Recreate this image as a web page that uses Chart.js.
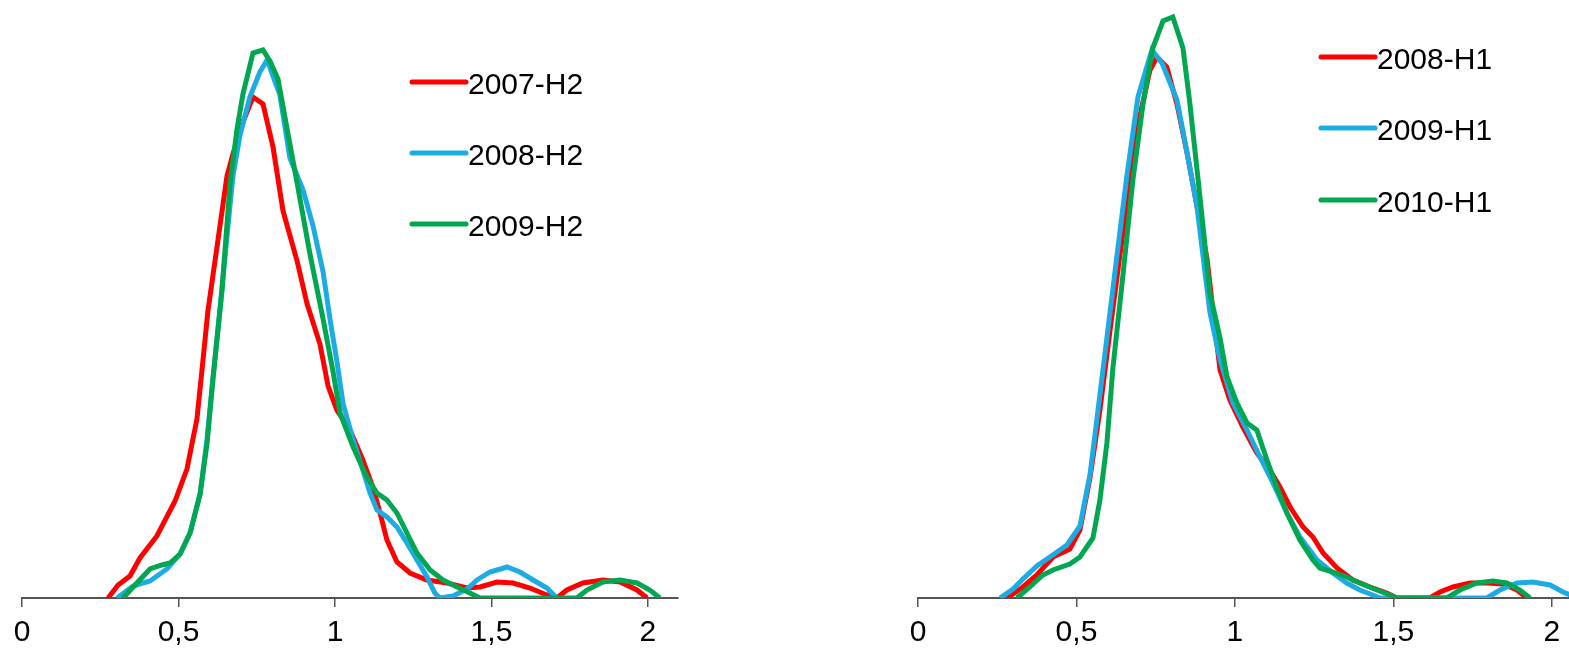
<!DOCTYPE html>
<html>
<head>
<meta charset="utf-8">
<script src="https://cdn.jsdelivr.net/npm/chart.js@4.4.1/dist/chart.umd.min.js"></script>
<style>
  html, body { margin: 0; padding: 0; background: #fff; }
  body { width: 1569px; height: 650px; position: relative; overflow: hidden; }
  .wrap { position: absolute; top: 0; height: 650px; }
  #wl { left: 0; width: 760px; }
  #wr { left: 860px; width: 709px; }
  canvas { display: block; }
</style>
</head>
<body>
<div class="wrap" id="wl"><canvas id="cl" width="760" height="650"></canvas></div>
<div class="wrap" id="wr"><canvas id="cr" width="709" height="650"></canvas></div>
<script>
// ---------- data (x = ratio, y = density, arbitrary units) ----------
const tickValues = [0, 0.5, 1, 1.5, 2];
const leftLabels = ['2007-H2', '2008-H2', '2009-H2'];
const rightLabels = ['2008-H1', '2009-H1', '2010-H1'];

const leftRedX = [0.275,0.307,0.345,0.377,0.431,0.489,0.527,0.559,0.578,0.594,0.623,0.655,0.674,0.706,0.738,0.770,0.802,0.834,0.879,0.911,0.952,0.978,1.006,1.048,1.089,1.121,1.144,1.166,1.198,1.240,1.294,1.358,1.422,1.463,1.518,1.569,1.623,1.677,1.709,1.741,1.792,1.856,1.911,1.965,1.997];
const leftRedY = [0,0.065,0.11,0.2,0.31,0.485,0.645,0.895,1.185,1.435,1.755,2.11,2.22,2.38,2.505,2.47,2.255,1.935,1.685,1.47,1.27,1.06,0.94,0.84,0.69,0.555,0.425,0.29,0.18,0.125,0.09,0.075,0.05,0.055,0.08,0.075,0.05,0.015,0,0.04,0.075,0.09,0.08,0.04,0];

const leftBlueX = [0.304,0.355,0.409,0.463,0.505,0.537,0.569,0.591,0.610,0.633,0.655,0.674,0.696,0.728,0.760,0.783,0.824,0.856,0.898,0.930,0.962,0.984,1.006,1.026,1.058,1.089,1.112,1.134,1.166,1.198,1.230,1.262,1.294,1.319,1.335,1.377,1.422,1.454,1.495,1.550,1.591,1.633,1.677,1.709];
const leftBlueY = [0,0.06,0.085,0.145,0.22,0.325,0.52,0.79,1.095,1.45,1.81,2.11,2.31,2.505,2.63,2.69,2.515,2.2,2.04,1.86,1.63,1.395,1.185,0.97,0.79,0.64,0.525,0.44,0.405,0.355,0.275,0.19,0.105,0.025,0,0.01,0.045,0.09,0.13,0.155,0.13,0.09,0.05,0];

const leftGreenX = [0.323,0.367,0.409,0.447,0.473,0.505,0.537,0.569,0.591,0.610,0.639,0.665,0.687,0.706,0.738,0.770,0.792,0.818,0.847,0.879,0.920,0.962,0.994,1.016,1.058,1.102,1.134,1.166,1.198,1.230,1.262,1.304,1.345,1.390,1.431,1.463,1.773,1.805,1.856,1.911,1.965,2.006,2.038];
const leftGreenY = [0,0.075,0.145,0.165,0.175,0.22,0.325,0.52,0.77,1.095,1.54,2.075,2.345,2.52,2.725,2.74,2.685,2.595,2.345,2.075,1.72,1.395,1.13,0.925,0.755,0.605,0.525,0.49,0.425,0.325,0.225,0.14,0.09,0.055,0.025,0,0,0.04,0.08,0.09,0.075,0.04,0];

const rightRedX = [0.281,0.331,0.375,0.426,0.479,0.511,0.543,0.574,0.606,0.637,0.669,0.700,0.732,0.754,0.785,0.817,0.849,0.880,0.912,0.931,0.953,0.984,1.025,1.069,1.110,1.142,1.174,1.215,1.246,1.278,1.322,1.372,1.426,1.479,1.511,1.615,1.647,1.688,1.741,1.795,1.845,1.890,1.921];
const rightRedY = [0,0.055,0.115,0.205,0.245,0.34,0.605,0.94,1.34,1.715,2.09,2.41,2.64,2.705,2.655,2.47,2.225,1.96,1.695,1.43,1.14,0.99,0.855,0.725,0.64,0.555,0.455,0.355,0.305,0.225,0.15,0.09,0.055,0.025,0,0,0.03,0.055,0.075,0.075,0.07,0.04,0];

const rightBlueX = [0.259,0.300,0.331,0.375,0.416,0.470,0.511,0.543,0.568,0.596,0.628,0.659,0.694,0.722,0.738,0.770,0.817,0.849,0.880,0.921,0.953,0.994,1.038,1.079,1.120,1.164,1.205,1.259,1.309,1.353,1.394,1.435,1.457,1.795,1.836,1.890,1.940,1.994,2.035,2.080];
const rightBlueY = [0,0.045,0.095,0.16,0.205,0.265,0.36,0.62,0.94,1.3,1.715,2.11,2.505,2.655,2.74,2.675,2.49,2.225,1.96,1.43,1.19,0.975,0.84,0.705,0.575,0.425,0.305,0.19,0.125,0.075,0.04,0.015,0,0,0.04,0.075,0.08,0.065,0.03,0];

const rightGreenX = [0.312,0.353,0.394,0.426,0.479,0.511,0.552,0.574,0.596,0.615,0.647,0.678,0.710,0.741,0.773,0.804,0.836,0.858,0.890,0.921,0.953,0.975,1.006,1.038,1.069,1.101,1.132,1.164,1.205,1.246,1.268,1.309,1.353,1.394,1.448,1.489,1.511,1.669,1.710,1.763,1.814,1.858,1.899,1.931];
const rightGreenY = [0,0.055,0.115,0.14,0.17,0.205,0.3,0.49,0.775,1.15,1.62,2.09,2.47,2.75,2.885,2.905,2.75,2.47,2.0,1.525,1.3,1.105,0.975,0.875,0.84,0.69,0.555,0.425,0.29,0.19,0.15,0.13,0.105,0.075,0.04,0.015,0,0,0.04,0.075,0.085,0.075,0.04,0];

// ---------- styling ----------
const COLORS = ['#FF0000', '#1DABE3', '#00A650'];
const FONT = '"Liberation Sans", Arial, sans-serif';

function zip(xs, ys) { return xs.map((x, i) => ({ x: x, y: ys[i] })); }

const legendPlugin = {
  id: 'customLegend',
  afterDraw(chart, args, opts) {
    const ctx = chart.ctx;
    ctx.save();
    chart.data.datasets.forEach((ds, i) => {
      const y = opts.rows[i];
      ctx.strokeStyle = ds.borderColor;
      ctx.lineWidth = 5;
      ctx.lineCap = 'round';
      ctx.beginPath();
      ctx.moveTo(opts.x, y);
      ctx.lineTo(opts.x + 54, y);
      ctx.stroke();
      ctx.fillStyle = '#000';
      ctx.font = '30px ' + FONT;
      ctx.textBaseline = 'alphabetic';
      ctx.textAlign = 'left';
      ctx.fillText(ds.label, opts.x + 56, y + 12);
    });
    ctx.restore();
  }
};

function makeChart(id, labels, series, xMax, padL, padR, legendX, legendRows) {
  const datasets = series.map((s, i) => ({
    label: labels[i],
    data: zip(s[0], s[1]),
    borderColor: COLORS[i],
    backgroundColor: COLORS[i],
    borderWidth: 5,
    pointRadius: 0,
    tension: 0,
    fill: false,
    order: 3 - i
  }));
  return new Chart(document.getElementById(id), {
    type: 'line',
    data: { datasets: datasets },
    options: {
      responsive: false,
      animation: false,
      events: [],
      layout: { padding: { left: padL, right: padR, top: 0, bottom: 0 } },
      plugins: {
        legend: { display: false },
        tooltip: { enabled: false },
        customLegend: { x: legendX, rows: legendRows }
      },
      scales: {
        x: {
          type: 'linear',
          min: 0,
          max: xMax,
          afterFit(scale) { scale.height = 52; },
          afterBuildTicks(scale) { scale.ticks = tickValues.map(v => ({ value: v })); },
          ticks: {
            includeBounds: false,
            autoSkip: false,
            maxRotation: 0,
            padding: 8,
            color: '#000',
            font: { family: FONT, size: 30 },
            callback: (v) => String(v).replace('.', ',')
          },
          grid: {
            display: true,
            drawOnChartArea: false,
            drawTicks: true,
            tickLength: 9,
            color: '#555',
            lineWidth: 1.5
          },
          border: { display: true, color: '#555', width: 2 }
        },
        y: {
          display: false,
          min: 0,
          max: 2.99
        }
      }
    },
    plugins: [legendPlugin]
  });
}

makeChart('cl', leftLabels,
  [[leftRedX, leftRedY], [leftBlueX, leftBlueY], [leftGreenX, leftGreenY]],
  2.096, 22, 82, 412, [82, 153, 224]);

makeChart('cr', rightLabels,
  [[rightRedX, rightRedY], [rightBlueX, rightBlueY], [rightGreenX, rightGreenY]],
  2.054, 58, 0, 1321 - 860, [57, 128, 200]);
</script>
</body>
</html>
